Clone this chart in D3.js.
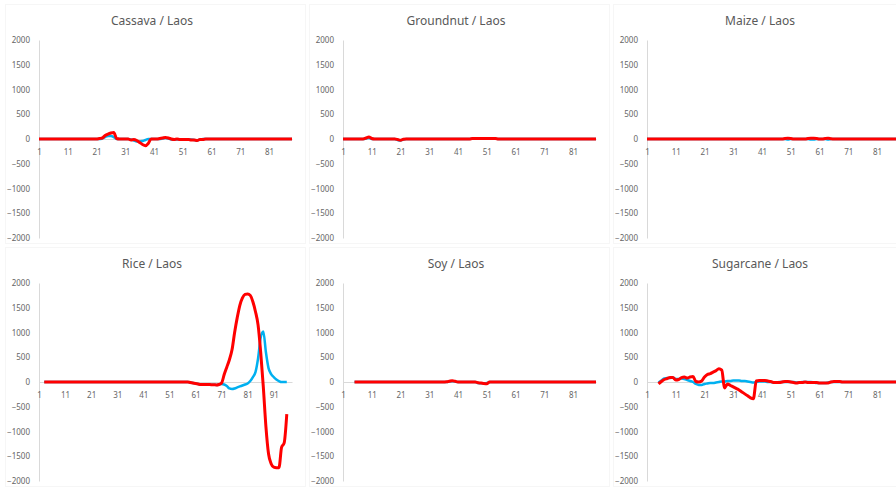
<!DOCTYPE html>
<html>
<head>
<meta charset="utf-8">
<script src="https://cdn.jsdelivr.net/npm/d3@7"></script>
<style>
  body { margin: 0; background: #fff; }
  svg { display: block; }
  .title { font-family: "Noto Sans", "Open Sans", sans-serif; font-size: 12px; fill: #595959; }
  .axis text { font-family: "Noto Sans", "Open Sans", sans-serif; font-size: 8px; fill: #666; }
  .axis path { stroke: #d9d9d9; }
</style>
</head>
<body>
<div id="vis"></div>
<script>
// tick labels
const yTicks = [-2000, -1500, -1000, -500, 0, 500, 1000, 1500, 2000];
const xTicksTop = [1, 11, 21, 31, 41, 51, 61, 71, 81];
const xTicksRice = [1, 11, 21, 31, 41, 51, 61, 71, 81, 91];

const titles = ['Cassava / Laos', 'Groundnut / Laos', 'Maize / Laos', 'Rice / Laos', 'Soy / Laos', 'Sugarcane / Laos'];

// values per category (1..N), null = no point
const cassavaBlue = [
  0,0,0,0,0,0,0,0,0,0,
  0,0,0,0,0,0,0,0,0,0,
  0,0,10,40,60,60,40,0,0,0,
  0,0,-10,-30,-50,-50,-40,-20,0,0,
  0,0,0,10,20,10,-10,-10,-10,-10,
  -10,-10,-10,-10,-20,-30,-10,0,0,0,
  0,0,0,0,0,0,0,0,0,0,
  0,0,0,0,0,0,0,0,0,0,
  0,0,0,0,0,0,0,0,0
];
const cassavaRed = [
  0,0,0,0,0,0,0,0,0,0,
  0,0,0,0,0,0,0,0,0,0,
  0,10,20,70,100,120,130,10,0,0,
  0,0,-20,-10,-30,-70,-110,-135,-90,0,
  0,0,10,20,30,20,0,-10,0,-10,
  -10,-10,-10,-20,-20,-30,-10,-10,0,0,
  0,0,0,0,0,0,0,0,0,0,
  0,0,0,0,0,0,0,0,0,0,
  0,0,0,0,0,0,0,0,0
];

const groundnutBlue = [
  0,0,0,0,0,0,0,0,10,20,
  0,0,0,0,0,0,0,0,0,-20,
  -30,-10,0,0,0,0,0,0,0,0,
  0,0,0,0,0,0,0,0,0,0,
  0,0,0,0,0,5,5,5,5,5,
  5,5,5,5,0,0,0,0,0,0,
  0,0,0,0,0,0,0,0,0,0,
  0,0,0,0,0,0,0,0,0,0,
  0,0,0,0,0,0,0,0,0
];
const groundnutRed = [
  0,0,0,0,0,0,0,0,20,40,
  10,0,0,0,0,0,0,0,0,-10,
  -25,-5,0,0,0,0,0,0,0,0,
  0,0,0,0,0,0,0,0,0,0,
  0,0,0,0,0,10,10,10,10,10,
  10,10,10,10,0,0,0,0,0,0,
  0,0,0,0,0,0,0,0,0,0,
  0,0,0,0,0,0,0,0,0,0,
  0,0,0,0,0,0,0,0,0
];

const maizeBlue = [
  0,0,0,0,0,0,0,0,0,0,
  0,0,0,0,0,0,0,0,0,0,
  0,0,0,0,0,0,0,0,0,0,
  0,0,0,0,0,0,0,0,0,0,
  0,0,0,0,0,0,0,0,0,-10,
  0,0,0,0,0,0,0,-10,-10,0,
  0,0,0,-10,0,0,0,0,0,0,
  0,0,0,0,0,0,0,0,0,0,
  0,0,0,0,0,0,0,0,0
];
const maizeRed = [
  0,0,0,0,0,0,0,0,0,0,
  0,0,0,0,0,0,0,0,0,0,
  0,0,0,0,0,0,0,0,0,0,
  0,0,0,0,0,0,0,0,0,0,
  0,0,0,0,0,0,0,0,10,15,
  10,0,0,0,0,0,10,15,15,10,
  0,0,10,15,5,0,0,0,0,0,
  0,0,0,0,0,0,0,0,0,0,
  0,0,0,0,0,0,0,0,0
];

const riceBlue = [
  null,null,0,0,0,0,0,0,0,0,
  0,0,0,0,0,0,0,0,0,0,
  0,0,0,0,0,0,0,0,0,0,
  0,0,0,0,0,0,0,0,0,0,
  0,0,0,0,0,0,0,0,0,0,
  0,0,0,0,0,0,0,0,-10,-20,
  -30,-40,-50,-50,-50,-50,-55,-55,-60,-50,
  -40,-50,-80,-130,-140,-130,-110,-90,-70,-50,
  -30,20,100,200,480,900,1020,600,280,160,
  100,50,20,0,0,0,null,null
];
const riceRed = [
  null,null,0,0,0,0,0,0,0,0,
  0,0,0,0,0,0,0,0,0,0,
  0,0,0,0,0,0,0,0,0,0,
  0,0,0,0,0,0,0,0,0,0,
  0,0,0,0,0,0,0,0,0,0,
  0,0,0,0,0,0,0,0,-10,-20,
  -30,-40,-50,-50,-50,-50,-55,-55,-60,-50,
  -20,150,300,450,650,1000,1300,1550,1700,1770,
  1780,1750,1620,1420,1150,600,-100,-900,-1450,-1650,
  -1720,-1730,-1730,-1320,-1230,-650,null,null
];

const soyBlue = [
  null,null,null,null,0,0,0,0,0,0,
  0,0,0,0,0,0,0,0,0,0,
  0,0,0,0,0,0,0,0,0,0,
  0,0,0,0,0,0,0,10,15,10,
  0,0,0,0,0,0,0,-20,-25,-25,
  -20,0,0,0,0,0,0,0,0,0,
  0,0,0,0,0,0,0,0,0,0,
  0,0,0,0,0,0,0,0,0,0,
  0,0,0,0,0,0,0,0,0
];
const soyRed = [
  null,null,null,null,0,0,0,0,0,0,
  0,0,0,0,0,0,0,0,0,0,
  0,0,0,0,0,0,0,0,0,0,
  0,0,0,0,0,0,5,15,25,15,
  0,0,0,0,0,0,0,-15,-20,-30,
  -35,0,0,0,0,0,0,0,0,0,
  0,0,0,0,0,0,0,0,0,0,
  0,0,0,0,0,0,0,0,0,0,
  0,0,0,0,0,0,0,0,0
];

const sugarcaneBlue = [
  null,null,null,null,-10,30,70,80,80,90,
  60,60,70,60,40,20,0,-40,-60,-60,
  -40,-30,-20,-20,-10,0,10,10,20,20,
  30,30,30,20,20,10,0,-10,0,10,
  10,10,0,0,-10,-10,0,0,0,0,
  0,0,-10,-10,0,0,0,0,-10,-20,
  -20,-20,-20,-10,0,0,0,0,0,0,
  0,0,0,0,0,0,0,0,0,0,
  0,0,0,0,0,0,0,0,0
];
const sugarcaneRed = [
  null,null,null,null,-40,10,50,70,90,90,
  40,50,90,100,80,100,110,10,0,20,
  100,150,170,200,230,270,240,-120,-40,-70,
  -100,-130,-160,-200,-240,-280,-320,-340,20,30,
  30,30,20,10,-10,-10,-10,0,10,10,
  0,-10,-20,-10,-10,0,-10,-10,-10,-10,
  -20,-20,-20,-20,0,10,10,10,0,0,
  0,0,0,0,0,0,0,0,0,0,
  0,0,0,0,0,0,0,0,0
];

const panels = [
  { title: titles[0], blue: cassavaBlue, red: cassavaRed, ticks: xTicksTop },
  { title: titles[1], blue: groundnutBlue, red: groundnutRed, ticks: xTicksTop },
  { title: titles[2], blue: maizeBlue, red: maizeRed, ticks: xTicksTop },
  { title: titles[3], blue: riceBlue, red: riceRed, ticks: xTicksRice },
  { title: titles[4], blue: soyBlue, red: soyRed, ticks: xTicksTop },
  { title: titles[5], blue: sugarcaneBlue, red: sugarcaneRed, ticks: xTicksTop }
];

const width = 896;
const height = 487;
const panelW = 304;
const panelH = 243;
const plot = { left: 39, right: 292, top: 40, bottom: 238 };

const svg = d3.select('#vis').append('svg')
  .attr('width', width)
  .attr('height', height);

panels.forEach((p, i) => {
  let col = i % 3;
  let row = Math.floor(i / 3);
  let g = svg.append('g')
    .attr('transform', 'translate(' + (col * panelW) + ',' + (row * panelH) + ')');

  // very faint chart-area border
  g.append('rect')
    .attr('x', 5.5).attr('y', 4.5)
    .attr('width', panelW - 4).attr('height', panelH - 4)
    .attr('fill', 'none')
    .attr('stroke', '#f6f6f6');

  let n = p.red.length;
  let x = d3.scaleLinear().domain([1, n]).range([plot.left, plot.right]);
  let y = d3.scaleLinear().domain([-2000, 2000]).range([plot.bottom, plot.top]);

  g.append('text')
    .attr('class', 'title')
    .attr('x', panelW / 2)
    .attr('y', 25)
    .attr('text-anchor', 'middle')
    .text(p.title);

  g.append('g')
    .attr('class', 'axis')
    .attr('transform', 'translate(' + plot.left + ',0)')
    .call(d3.axisLeft(y).tickValues(yTicks).tickSize(0).tickPadding(9).tickFormat(d3.format('d')));

  g.append('g')
    .attr('class', 'axis')
    .attr('transform', 'translate(0,' + y(0) + ')')
    .call(d3.axisBottom(x).tickValues(p.ticks).tickSize(0).tickPadding(10).tickFormat(d3.format('d')));

  let line = d3.line()
    .defined(d => d != null)
    .x((d, k) => x(k + 1))
    .y(d => y(d))
    .curve(d3.curveMonotoneX);

  g.append('path')
    .datum(p.blue)
    .attr('fill', 'none')
    .attr('stroke', '#00b0f0')
    .attr('stroke-width', 2.5)
    .attr('stroke-linejoin', 'round')
    .attr('d', line);

  g.append('path')
    .datum(p.red)
    .attr('fill', 'none')
    .attr('stroke', '#ff0000')
    .attr('stroke-width', 3)
    .attr('stroke-linejoin', 'round')
    .attr('d', line);
});
</script>
</body>
</html>
